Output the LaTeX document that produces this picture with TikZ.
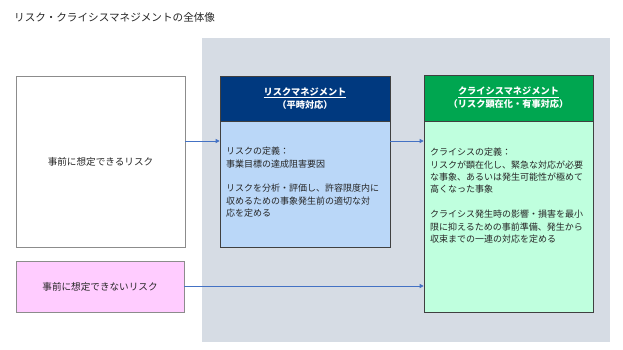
\documentclass[tikz,border=0pt]{standalone}
\usepackage{fontspec}
\setmainfont{Noto Sans CJK JP}
\usepackage{tikz}
\usetikzlibrary{arrows.meta, positioning}
\definecolor{panelgray}{HTML}{D6DCE4}
\definecolor{risknavy}{HTML}{00397F}
\definecolor{riskblue}{HTML}{BAD7F8}
\definecolor{crisisgreen}{HTML}{00A650}
\definecolor{crisismint}{HTML}{BFFFDE}
\definecolor{unknownpink}{HTML}{FFCCFF}
\definecolor{arrowblue}{HTML}{4472C4}
\definecolor{framegray}{HTML}{8C8C8C}
\definecolor{framedark}{HTML}{404040}
\tikzstyle{panel} = [rectangle, fill=panelgray, inner sep=0]
\tikzstyle{riskin} = [
  rectangle, draw=framegray, line width=0.6pt, text=black!85,
  font=\fontsize{9.6}{12}\selectfont
]
\tikzstyle{header} = [
  rectangle, draw=framedark, line width=0.6pt, text=white, align=center,
  font=\fontsize{9.2}{13}\selectfont\bfseries
]
\tikzstyle{body} = [rectangle, draw=framedark, line width=0.6pt]
\tikzstyle{bodytext} = [
  anchor=north west, inner sep=0, align=left, text=black!85,
  font=\fontsize{9}{12.4}\selectfont
]
\tikzstyle{arrow} = [-{Triangle[length=4pt, width=4pt]}, arrowblue, line width=0.8pt]

\begin{document}
\begin{tikzpicture}[x=1pt, y=-1pt]
  \useasboundingbox (0,0) rectangle (623,350);

  % Title and background
  \node[anchor=west, inner sep=0, font=\fontsize{10.6}{12}\selectfont, text=black!85] (title) at (14,17) {リスク・クライシスマネジメントの全体像};
  \node[panel, minimum width=408pt, minimum height=304pt] (panel) at (406,190) {};

  % Risks
  \node[riskin, fill=white, minimum width=169pt, minimum height=171pt] (known) at (100.5,161.5) {事前に想定できるリスク};
  \node[riskin, fill=unknownpink, minimum width=168pt, minimum height=51pt] (unknown) at (100,286.5) {事前に想定できないリスク};

  % Risk management
  \node[header, fill=risknavy, minimum width=170pt, minimum height=45pt] (riskhead) at (305,98.5) {\underline{リスクマネジメント}\\（平時対応）};
  \node[body, fill=riskblue, minimum width=170pt, minimum height=126pt] (riskbody) at (305,184) {};
  \node[bodytext] (risktext) at (226,147) {リスクの定義：\\事業目標の達成阻害要因\\[12.4pt]リスクを分析・評価し、許容限度内に\\収めるための事象発生前の適切な対\\応を定める};

  % Crisis management
  \node[header, fill=crisisgreen, minimum width=169pt, minimum height=46pt] (crisishead) at (508.5,98) {\underline{クライシスマネジメント}\\（リスク顕在化・有事対応）};
  \node[body, fill=crisismint, minimum width=169pt, minimum height=191pt] (crisisbody) at (508.5,216.5) {};
  \node[bodytext] (crisistext) at (430,148) {クライシスの定義：\\リスクが顕在化し、緊急な対応が必要\\な事象、あるいは発生可能性が極めて\\高くなった事象\\[12.4pt]クライシス発生時の影響・損害を最小\\限に抑えるための事前準備、発生から\\収束までの一連の対応を定める};

  % Flows
  \coordinate (upper) at (0,141);
  \coordinate (lower) at (0,286);
  \draw[arrow] (known.east |- upper) -- (riskbody.west |- upper);
  \draw[arrow] (riskbody.east |- upper) -- (crisisbody.west |- upper);
  \draw[arrow] (unknown.east |- lower) -- (crisisbody.west |- lower);

\end{tikzpicture}
\end{document}
